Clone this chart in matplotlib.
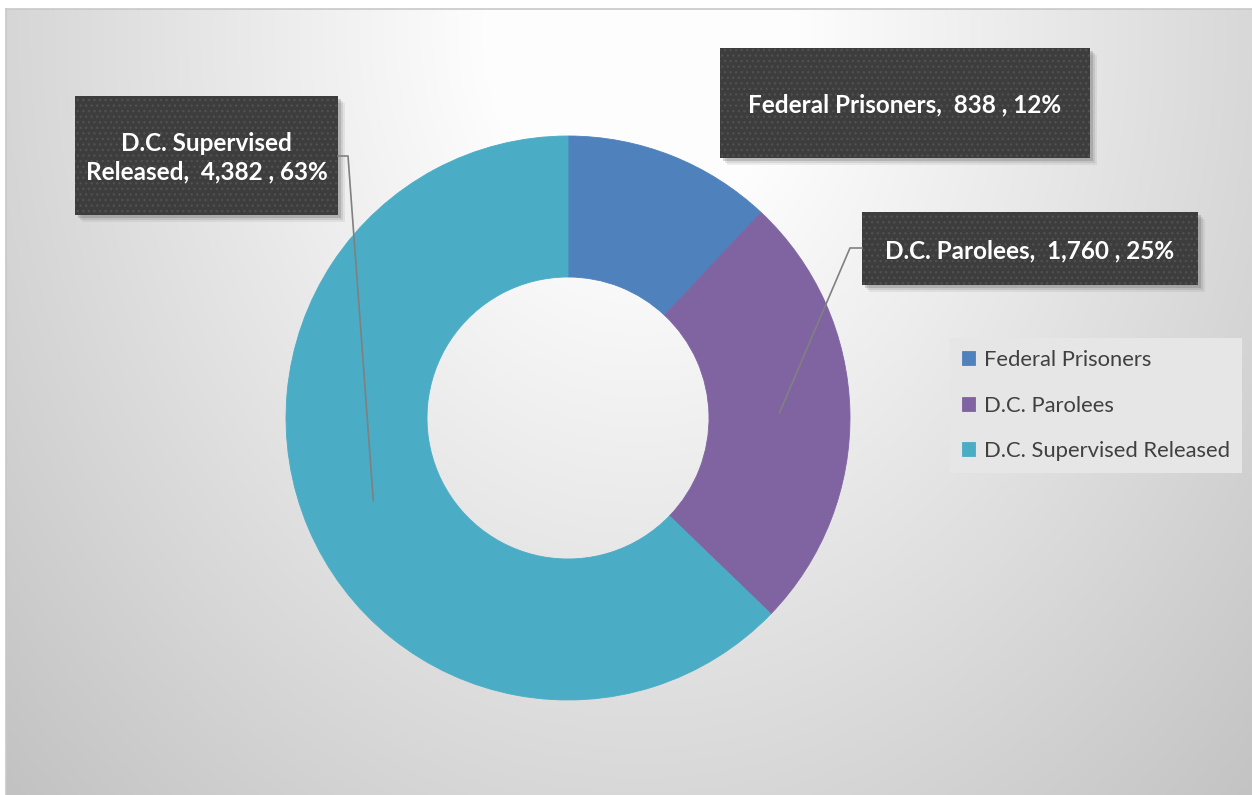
import numpy as np
import matplotlib
matplotlib.use("Agg")
import matplotlib.pyplot as plt
from matplotlib.patches import Rectangle

categories = ["Federal Prisoners", "D.C. Parolees", "D.C. Supervised Released"]
counts = [838, 1760, 4382]
percents = [12, 25, 63]
colors = ["#4f81bd", "#8064a2", "#4bacc6"]
label_texts = [
    "Federal Prisoners,  838 , 12%",
    "D.C. Parolees,  1,760 , 25%",
    "D.C. Supervised\nReleased,  4,382 , 63%",
]

W, H = 1252, 795
plt.rcParams["font.family"] = ["Lato", "DejaVu Sans"]

fig = plt.figure(figsize=(W / 100, H / 100), dpi=100)
ax = fig.add_axes([0, 0, 1, 1])
ax.set_xlim(0, W)
ax.set_ylim(0, H)
ax.axis("off")


def Y(img_y):
    # picture rows run downwards, data y runs upwards
    return H - img_y


# radial grey background of the chart area
x0, x1, top, bot = 6, W, 9, H
xx, yy = np.meshgrid(np.arange(x0, x1), np.arange(top, bot))
d = np.sqrt(((xx - 640) / 720.0) ** 2 + ((yy - 30) / 900.0) ** 2)
val = np.clip(266 - 59 * d, 190, 253) / 255.0
ax.imshow(np.dstack([val, val, val]), extent=(x0, x1, Y(bot), Y(top)),
          origin="upper", zorder=0, aspect="auto")
ax.plot([x0, x1], [Y(top), Y(top)], color="#c8c8c8", lw=1.2, zorder=1)
ax.plot([x0, x0], [Y(top), Y(bot)], color="#c8c8c8", lw=1.2, zorder=1)

# donut
cx, cy, r_out, r_in = 568, Y(418), 282, 141
wedges, _ = ax.pie(counts, colors=colors, startangle=90, counterclock=False,
                   radius=r_out, center=(cx, cy), frame=True,
                   wedgeprops=dict(width=r_out - r_in, linewidth=0.6))
for w, c in zip(wedges, colors):
    w.set_edgecolor(c)
    w.set_zorder(2)
ax.set_xlim(0, W)
ax.set_ylim(0, H)
ax.set_aspect("equal")
ax.axis("off")

# anchors for leader lines, mid-angle of each slice at mid ring
total = float(sum(counts))
frac = np.array(counts) / total
mid = np.cumsum(frac) - frac / 2
ang = np.deg2rad(90 - 360 * mid)
r_mid = (r_out + r_in) / 2
anchors = [(cx + r_mid * np.cos(a), cy + r_mid * np.sin(a)) for a in ang]

# label boxes: (left, top, right, bottom) in picture pixels
boxes = [(720, 48, 1090, 158), (862, 212, 1198, 285), (75, 96, 338, 215)]
for (l, t, r, b), txt in zip(boxes, label_texts):
    for off, alpha in [(7, 0.10), (5, 0.15), (3, 0.25)]:
        ax.add_patch(Rectangle((l + off, Y(b) - off), r - l, b - t,
                               facecolor="#606060", edgecolor="none", alpha=alpha, zorder=3))
    ax.add_patch(Rectangle((l, Y(b)), r - l, b - t, facecolor="#3d3d3d",
                           edgecolor="#505050", linewidth=0, hatch="...", zorder=4))
    ax.text((l + r) / 2, Y((t + b) / 2 + 2), txt, color="white", fontsize=17.5,
            fontweight="bold", ha="center", va="center", linespacing=1.27, zorder=5)

# leader lines
ax.plot([338, 348, anchors[2][0]], [Y(156), Y(156), anchors[2][1]],
        color="#808080", lw=1.2, zorder=6)
ax.plot([862, 850, anchors[1][0]], [Y(248), Y(248), anchors[1][1]],
        color="#808080", lw=1.2, zorder=6)

leg = ax.legend(wedges, categories, loc="upper left",
                bbox_to_anchor=(950 / W, 1 - 338 / H), bbox_transform=fig.transFigure,
                fontsize=15.8, frameon=True, fancybox=False, labelcolor="#404040",
                handlelength=0.6, handleheight=0.6, handletextpad=0.4,
                labelspacing=1.16, borderpad=0.55, borderaxespad=0)
leg.get_frame().set_facecolor("#e6e6e6")
leg.get_frame().set_edgecolor("none")
leg.get_frame().set_alpha(1)
leg.set_zorder(7)

fig.savefig("out.png", dpi=100, facecolor="white")
